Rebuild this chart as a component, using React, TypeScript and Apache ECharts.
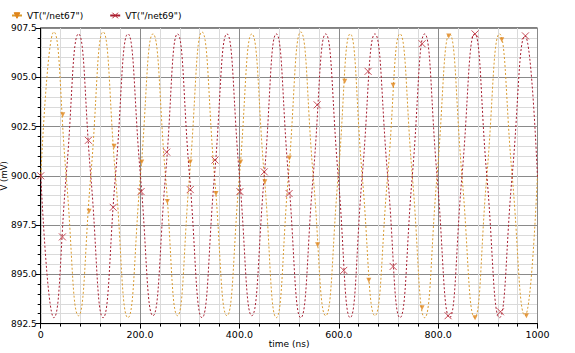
import React, { useEffect, useRef } from "react";
import * as echarts from "echarts";

// time axis (ns) of the key points (crossings, peaks, troughs)
const timeNs = [
  0,
  26.4, 51.3, 76.1, 100.8,
  125.6, 150.5, 175.6, 200.8,
  226.0, 251.2, 275.4, 299.6,
  324.7, 349.8, 374.9, 400.0,
  425.0, 450.0, 474.3, 498.6,
  523.5, 548.5, 573.7, 598.8,
  623.0, 647.2, 672.8, 698.4,
  723.2, 748.0, 772.9, 797.8,
  823.0, 848.0, 873.5, 898.0,
  923.5, 949.0, 975.0, 1000,
];

// VT("/net67") in mV
const net67 = [
  899.9,
  907.3, 900.0, 892.9, 900.0,
  907.3, 900.0, 892.8, 900.0,
  907.2, 900.0, 892.9, 900.0,
  907.3, 900.0, 892.9, 900.0,
  907.2, 900.0, 892.8, 900.0,
  907.3, 900.0, 892.9, 900.0,
  907.2, 900.0, 892.9, 900.0,
  907.2, 900.0, 892.8, 900.0,
  907.2, 900.0, 892.8, 900.0,
  907.2, 900.0, 892.9, 900.1,
];

// VT("/net69") in mV
const net69 = [
  900.1,
  892.8, 900.0, 907.2, 900.0,
  892.8, 900.0, 907.2, 900.0,
  892.9, 900.0, 907.2, 900.0,
  892.8, 900.0, 907.2, 900.0,
  892.9, 900.0, 907.2, 900.0,
  892.8, 900.0, 907.2, 900.0,
  892.8, 900.0, 907.2, 900.0,
  892.8, 900.0, 907.2, 900.0,
  892.8, 900.0, 907.2, 900.0,
  892.8, 900.0, 907.1, 899.9,
];

// marker positions on each trace
const net67MarkerTime = [44.4, 97.3, 147.7, 203.3, 254.9, 301.0, 352.8, 402.4, 451.3, 500.3, 557.3, 612.0, 660.5, 709.4, 767.7, 821.4, 874.3, 928.0, 977.7];
const net67MarkerV = [903.1, 898.2, 901.5, 900.7, 898.7, 900.7, 899.1, 900.7, 899.7, 900.9, 896.5, 904.8, 894.7, 904.6, 893.3, 907.1, 892.8, 906.9, 892.9];
const net69MarkerTime = [0, 43.7, 96.0, 146.0, 202.0, 253.6, 301.0, 350.8, 401.0, 450.0, 500.0, 556.5, 610.0, 659.0, 709.4, 767.7, 820.0, 874.3, 925.4, 975.7];
const net69MarkerV = [900.0, 896.9, 901.8, 898.4, 899.2, 901.2, 899.3, 900.8, 899.2, 900.2, 899.1, 903.6, 895.2, 905.3, 895.4, 906.7, 892.9, 907.2, 893.1, 907.1];

const xTickValues = [0, 200, 400, 600, 800, 1000];
const xTickLabels = ["0", "200.0", "400.0", "600.0", "800.0", "1000"];
const yTickValues = [892.5, 895, 897.5, 900, 902.5, 905, 907.5];
const yTickLabels = ["892.5", "895.0", "897.5", "900.0", "902.5", "905.0", "907.5"];

const NAME67 = 'VT("/net67")';
const NAME69 = 'VT("/net69")';
const ORANGE = "#d99a2e";
const ORANGE_MARK = "#e0861c";
const RED = "#a61c2e";
const RED_MARK = "#b8202e";
const X_PATH = "path://M0,0L10,10M10,0L0,10";
const FONT = "DejaVu Sans";

export default function App() {
  const ref = useRef<HTMLDivElement>(null);
  useEffect(() => {
    const chart = echarts.init(ref.current!, null, { renderer: "svg" });
    const lineData67 = timeNs.map((t, i) => [t, net67[i]]);
    const lineData69 = timeNs.map((t, i) => [t, net69[i]]);
    const mark67 = net67MarkerTime.map((t, i) => [t, net67MarkerV[i]]);
    const mark69 = net69MarkerTime.map((t, i) => [t, net69MarkerV[i]]);
    chart.setOption({
      animation: false,
      backgroundColor: "#ffffff",
      legend: {
        left: 11,
        top: 11,
        itemWidth: 10,
        itemHeight: 7,
        itemGap: 26,
        padding: 0,
        data: [NAME67, NAME69],
        textStyle: { fontFamily: FONT, fontSize: 9, color: "#000" },
        lineStyle: { type: "solid" },
        itemStyle: { borderWidth: 1 },
      },
      grid: {
        left: 40.7,
        right: 37.5,
        top: 28,
        bottom: 29.4,
        containLabel: false,
        outerBoundsMode: "none",
        show: true,
        borderColor: "#000",
        borderWidth: 1,
        backgroundColor: "transparent",
      },
      xAxis: {
        type: "value",
        min: 0,
        max: 1000,
        interval: 200,
        name: "time (ns)",
        nameLocation: "middle",
        nameGap: 15,
        nameMoveOverlap: false,
        nameTextStyle: { fontFamily: FONT, fontSize: 9, lineHeight: 10, color: "#000" },
        axisLine: { show: true, lineStyle: { color: "#000", width: 1 } },
        axisTick: { show: true, length: 5, lineStyle: { color: "#000" } },
        minorTick: { show: true, splitNumber: 5, length: 3, lineStyle: { color: "#000" } },
        splitLine: { show: true, lineStyle: { color: "#8a8a8a", width: 1 } },
        minorSplitLine: { show: true, lineStyle: { color: "#dadada", width: 1 } },
        axisLabel: {
          margin: 6,
          fontFamily: FONT,
          fontSize: 9.5,
          lineHeight: 10,
          color: "#000",
          formatter: (v: number) => {
            const i = xTickValues.indexOf(v);
            return i >= 0 ? xTickLabels[i] : "";
          },
        },
      },
      yAxis: {
        type: "value",
        min: 892.5,
        max: 907.5,
        interval: 2.5,
        name: "V (mV)",
        nameLocation: "middle",
        nameGap: 32,
        nameMoveOverlap: false,
        nameTextStyle: { fontFamily: FONT, fontSize: 8.5, lineHeight: 9, color: "#000" },
        axisLine: { show: true, lineStyle: { color: "#000", width: 1 } },
        axisTick: { show: true, length: 5, lineStyle: { color: "#000" } },
        minorTick: { show: true, splitNumber: 5, length: 3, lineStyle: { color: "#000" } },
        splitLine: { show: true, lineStyle: { color: "#8a8a8a", width: 1 } },
        minorSplitLine: { show: true, lineStyle: { color: "#dadada", width: 1 } },
        axisLabel: {
          margin: 4,
          fontFamily: FONT,
          fontSize: 9,
          color: "#000",
          formatter: (v: number) => {
            const i = yTickValues.findIndex((y) => Math.abs(y - v) < 1e-6);
            return i >= 0 ? yTickLabels[i] : "";
          },
        },
      },
      series: [
        {
          name: NAME67,
          type: "line",
          data: lineData67,
          smooth: 0.5,
          showSymbol: false,
          symbol: "triangle",
          symbolRotate: 180,
          lineStyle: { color: ORANGE, width: 1, type: [2, 2] },
          itemStyle: { color: ORANGE_MARK, borderColor: ORANGE_MARK },
          z: 2,
        },
        {
          name: NAME69,
          type: "line",
          data: lineData69,
          smooth: 0.5,
          showSymbol: false,
          symbol: X_PATH,
          lineStyle: { color: RED, width: 1, type: [2, 2] },
          itemStyle: { color: "rgba(0,0,0,0)", borderColor: RED_MARK, borderWidth: 1 },
          z: 3,
        },
        {
          name: "net67 markers",
          type: "scatter",
          data: mark67,
          symbol: "triangle",
          symbolRotate: 180,
          symbolSize: 5,
          itemStyle: { color: ORANGE_MARK },
          z: 4,
        },
        {
          name: "net69 markers",
          type: "scatter",
          data: mark69,
          symbol: X_PATH,
          symbolSize: 7,
          itemStyle: { color: "rgba(0,0,0,0)", borderColor: RED_MARK, borderWidth: 1 },
          z: 5,
        },
      ],
    });
    return () => chart.dispose();
  }, []);
  return (
    <div
      ref={ref}
      style={{ position: "absolute", left: 0, top: 0, width: 575, height: 353 }}
    />
  );
}
